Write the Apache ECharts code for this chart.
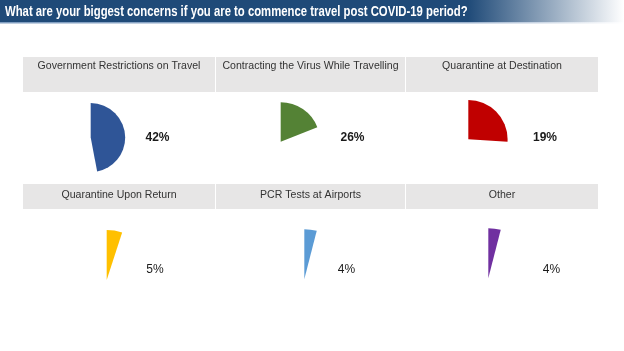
<!DOCTYPE html>
<html>
<head>
<meta charset="utf-8">
<script src="https://cdn.jsdelivr.net/npm/echarts@6/dist/echarts.min.js"></script>
<style>
  html, body { margin: 0; padding: 0; background: #fff; }
  #chart { width: 624px; height: 351px; }
</style>
</head>
<body>
<div id="chart"></div>
<script>
// chart data
var chartTitle = 'What are your biggest concerns if you are to commence travel post COVID-19 period?';
var concerns = ['Government Restrictions on Travel', 'Contracting the Virus While Travelling', 'Quarantine at Destination',
                'Quarantine Upon Return', 'PCR Tests at Airports', 'Other'];
var shares = [47, 19, 26, 5, 4, 4];          // slice size as drawn (%)
var pctLabels = ['42%', '26%', '19%', '5%', '4%', '4%'];   // printed labels
var sliceColors = ['#2F5597', '#548235', '#C00000', '#FFC000', '#5B9BD5', '#7030A0'];

// layout of the six panels
var boxes = [[23, 215], [216, 405], [406, 598]];
var rows = [
  { top: 57, height: 35, textY: 66, labelY: 138, bold: 'bold' },
  { top: 184, height: 25, textY: 195, labelY: 270, bold: 'normal' }
];
var pieCenters = [[90.7, 137.6], [280.7, 141.7], [468.3, 139.3], [106.7, 280], [304.3, 279.3], [488.3, 278.3]];
var pieRadius = [34.5, 39.4, 39.3, 50, 50, 50];
var labelX = [157.5, 352.5, 545, 155, 346.5, 551.5];

var font = '"Liberation Sans", Arial, sans-serif';
var chart = echarts.init(document.getElementById('chart'));

var graphics = [];
// title bar
graphics.push({
  type: 'rect', z: 0, silent: true,
  shape: { x: 0, y: 0, width: 624, height: 22 },
  style: { fill: new echarts.graphic.LinearGradient(0, 0, 1, 0, [
    { offset: 0, color: '#1F4A78' }, { offset: 0.75, color: '#1F4A78' }, { offset: 1, color: '#ffffff' }]) }
});
graphics.push({
  type: 'rect', z: 0, silent: true,
  shape: { x: 0, y: 22, width: 624, height: 1.5 },
  style: { fill: new echarts.graphic.LinearGradient(0, 0, 1, 0, [
    { offset: 0, color: '#7F9DC0' }, { offset: 0.75, color: '#9DB3CE' }, { offset: 1, color: '#ffffff' }]) }
});
graphics.push({
  type: 'text', z: 5, silent: true, x: 5, y: 11.5, scaleX: 0.755,
  style: { text: chartTitle, fill: '#ffffff', font: 'bold 15px ' + font, verticalAlign: 'middle' }
});

var series = [];
for (var i = 0; i < concerns.length; i++) {
  var r = Math.floor(i / 3), c = i % 3;
  var row = rows[r];
  var bx = boxes[c];
  graphics.push({
    type: 'rect', z: 0, silent: true,
    shape: { x: bx[0], y: row.top, width: bx[1] - bx[0], height: row.height },
    style: { fill: '#E7E6E6' }
  });
  graphics.push({
    type: 'text', z: 5, silent: true, x: (bx[0] + bx[1]) / 2, y: row.textY, scaleX: 0.96,
    style: { text: concerns[i], fill: '#333333', font: '11px ' + font, align: 'center', verticalAlign: 'middle' }
  });
  series.push({
    type: 'pie',
    silent: true,
    animation: false,
    center: pieCenters[i],
    radius: pieRadius[i],
    startAngle: 90,
    clockwise: true,
    avoidLabelOverlap: false,
    itemStyle: { borderWidth: 0 },
    label: {
      show: true,
      formatter: pctLabels[i],
      color: '#1a1a1a',
      fontSize: 12,
      fontWeight: row.bold,
      fontFamily: font
    },
    labelLine: { show: false },
    labelLayout: { x: labelX[i], y: row.labelY, align: 'center', verticalAlign: 'middle' },
    emphasis: { disabled: true },
    data: [
      { value: shares[i], itemStyle: { color: sliceColors[i] } },
      { value: 100 - shares[i], itemStyle: { color: 'rgba(0,0,0,0)' }, label: { show: false } }
    ]
  });
}

chart.setOption({
  backgroundColor: '#ffffff',
  animation: false,
  graphic: graphics,
  series: series
});
</script>
</body>
</html>
